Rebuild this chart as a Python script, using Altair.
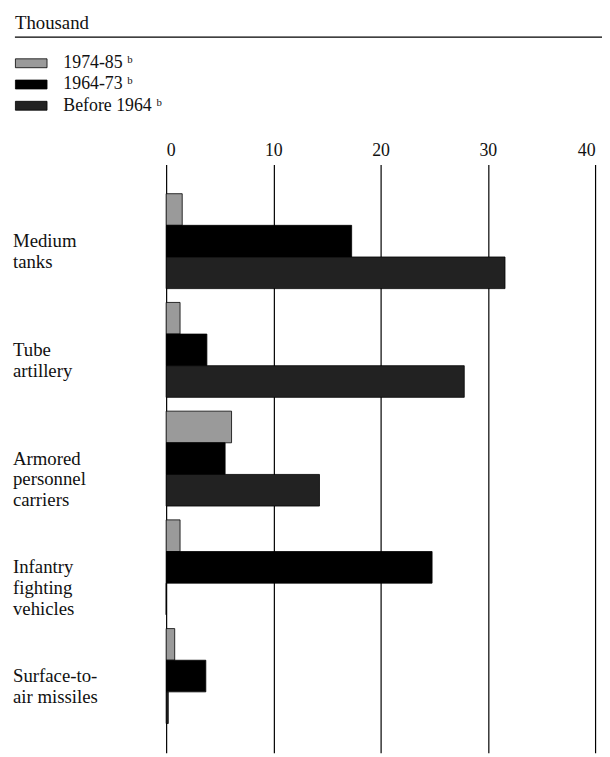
import altair as alt
import pandas as pd

# ---- data ----
categories = [
    "Medium tanks",
    "Tube artillery",
    "Armored personnel carriers",
    "Infantry fighting vehicles",
    "Surface-to-air missiles",
]
label_lines = [
    "Medium\ntanks",
    "Tube\nartillery",
    "Armored\npersonnel\ncarriers",
    "Infantry\nfighting\nvehicles",
    "Surface-to-\nair missiles",
]
periods = ["1974-85", "1964-73", "Before 1964"]
v_1974_85 = [1.5, 1.3, 6.1, 1.3, 0.8]
v_1964_73 = [17.3, 3.8, 5.5, 24.8, 3.7]
v_before_1964 = [31.6, 27.8, 14.3, 0.0, 0.2]
x_ticks = [0, 10, 20, 30, 40]
unit_label = ["Thousand"]
colors = ["#9a9a9a", "#000000", "#222222"]

rows = []
for i, c in enumerate(categories):
    for p, vals in zip(periods, [v_1974_85, v_1964_73, v_before_1964]):
        rows.append({"category": c, "period": p, "value": vals[i]})
df = pd.DataFrame(rows)
labels_df = pd.DataFrame({"category": categories, "label": label_lines})

FONT = "Liberation Serif"

y_scale = alt.Scale(domain=categories, paddingInner=0.127, paddingOuter=0.268)

bars = alt.Chart(df).mark_bar(stroke="#000000", strokeWidth=0.8).encode(
    x=alt.X(
        "value:Q",
        scale=alt.Scale(domain=[0, 40], nice=False),
        axis=alt.Axis(
            orient="top", values=x_ticks, grid=True, domain=False, ticks=False,
            tickSize=0, labelPadding=5, title=None, format="d",
        ),
    ),
    y=alt.Y("category:N", scale=y_scale, axis=None),
    yOffset=alt.YOffset(
        "period:N", sort=periods,
        scale=alt.Scale(domain=periods, paddingInner=0, paddingOuter=0),
    ),
    color=alt.Color(
        "period:N",
        scale=alt.Scale(domain=periods, range=colors),
        legend=alt.Legend(
            orient="none", legendX=-147, legendY=-113, title=None,
            symbolType="M-1.6,-0.45H1.6V0.45H-1.6Z", symbolSize=400,
            symbolStrokeColor="#000000", symbolStrokeWidth=0.8,
            symbolOpacity=1, labelFont=FONT, labelFontSize=18,
            labelColor="#111111", labelOffset=22, rowPadding=1.5, padding=0,
            labelExpr="datum.label + ' \u1d47'",
        ),
    ),
)

cat_labels = alt.Chart(labels_df).mark_text(
    align="left", baseline="middle", lineBreak="\n", font=FONT,
    fontSize=19, lineHeight=21, color="#111111",
).encode(
    y=alt.Y("category:N", scale=y_scale, axis=None),
    x=alt.value(-155),
    text="label:N",
)

unit_text = alt.Chart(pd.DataFrame({"t": unit_label})).mark_text(
    align="left", baseline="alphabetic", font=FONT, fontSize=19, color="#111111",
).encode(x=alt.value(-153), y=alt.value(-137), text="t:N")

top_rule = alt.Chart(pd.DataFrame({"a": [0]})).mark_rule(
    color="#000000", strokeWidth=1.2
).encode(x=alt.value(-153), x2=alt.value(442), y=alt.value(-129))

chart = alt.layer(bars, cat_labels, unit_text, top_rule).properties(
    width=434,
    height=595,
    padding={"left": 160, "top": 154, "right": 7, "bottom": 0},
    autosize=alt.AutoSizeParams(type="none"),
).configure_view(stroke=None).configure_axis(
    gridColor="#000000", gridWidth=1.2, gridOpacity=1,
    labelFont=FONT, labelFontSize=18, labelColor="#111111",
)

chart.save("out.html", embed_options={"renderer": "svg", "actions": False})
